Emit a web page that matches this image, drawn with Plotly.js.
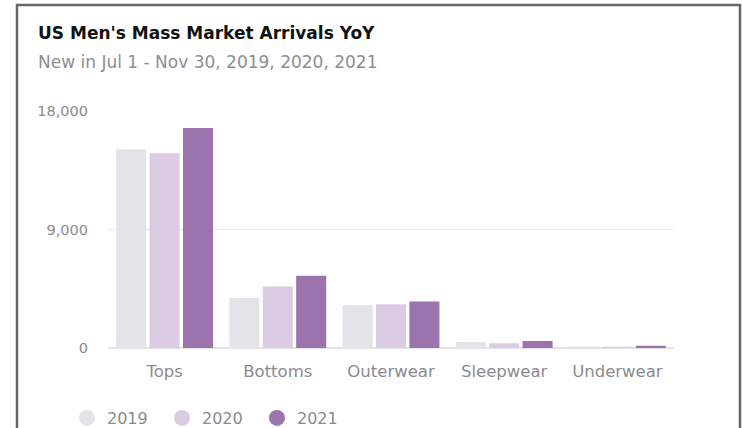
<!DOCTYPE html>
<html>
<head>
<meta charset="utf-8">
<script src="https://cdn.plot.ly/plotly-3.0.1.min.js"></script>
<style>
html,body{margin:0;padding:0;background:#fff;}
#chart{width:742px;height:428px;}
</style>
</head>
<body>
<div id="chart"></div>
<script>
const categories = ["Tops", "Bottoms", "Outerwear", "Sleepwear", "Underwear"];
const years = ["2019", "2020", "2021"];
const values2019 = [15100, 3800, 3250, 460, 110];
const values2020 = [14800, 4680, 3330, 360, 100];
const values2021 = [16700, 5490, 3540, 530, 170];
const colors = ["#e3e4e8", "#dccce3", "#9b74ae"];
const yTicks = [0, 9000, 18000];
const yTickLabels = ["0", "9,000", "18,000"];

const series = [values2019, values2020, values2021];
const traces = [];
series.forEach((vals, i) => {
  traces.push({
    type: "bar", x: categories, y: vals, name: years[i],
    marker: {color: colors[i]}, showlegend: false, hoverinfo: "x+y"
  });
});
years.forEach((yr, i) => {
  traces.push({
    type: "scatter", mode: "markers", x: [null], y: [null], name: yr,
    marker: {color: colors[i], size: 17, symbol: "circle"}, showlegend: true
  });
});

const W = 742, H = 428, L = 108, R = 68, T = 111, B = 80;
const pw = W - L - R, ph = H - T - B;
const px = x => (x - L) / pw;
const py = y => (H - B - y) / ph;
const FONT = "'DejaVu Sans', sans-serif";

const layout = {
  width: W, height: H,
  margin: {l: L, r: R, t: T, b: B, pad: 0, autoexpand: false},
  paper_bgcolor: "#fff", plot_bgcolor: "#fff",
  font: {family: FONT, color: "#8a8a8e", size: 14},
  barmode: "group", bargap: 0.115, bargroupgap: 0.1,
  xaxis: {
    type: "category", showgrid: false, zeroline: false, showline: false,
    ticks: "", tickfont: {size: 16.5, color: "#8a8a8e"}, ticklabelstandoff: 11
  },
  yaxis: {
    range: [0, 18000], tickvals: yTicks, ticktext: yTickLabels,
    showgrid: true, gridcolor: "#e9e9ea", gridwidth: 1.5,
    zeroline: true, zerolinecolor: "#e4e4e6", zerolinewidth: 1.5,
    showline: false, ticks: "", tickfont: {size: 14.5, color: "#8a8a8e"},
    ticklabelstandoff: 19, fixedrange: true
  },
  showlegend: true,
  legend: {
    orientation: "h", xref: "container", yref: "container",
    x: 67 / W, y: 1 - 401 / H, xanchor: "left", yanchor: "top",
    font: {size: 16, color: "#8a8a8e"}, itemsizing: "trace",
    entrywidth: 50, entrywidthmode: "pixels", bgcolor: "rgba(0,0,0,0)"
  },
  annotations: [
    {xref: "paper", yref: "paper", x: px(36), y: py(21), xanchor: "left", yanchor: "top",
     text: "US Men's Mass Market Arrivals YoY", showarrow: false,
     font: {size: 17, color: "#111", family: FONT, weight: 700}},
    {xref: "paper", yref: "paper", x: px(36), y: py(50), xanchor: "left", yanchor: "top",
     text: "New in Jul 1 - Nov 30, 2019, 2020, 2021", showarrow: false,
     font: {size: 17, color: "#8e8e92", family: FONT}}
  ],
  shapes: [
    {type: "path", xref: "paper", yref: "paper",
     path: `M ${px(17)} ${py(440)} L ${px(17)} ${py(5)} L ${px(740)} ${py(5)} L ${px(740)} ${py(440)}`,
     line: {color: "#666", width: 2.5}, layer: "above"}
  ]
};

Plotly.newPlot("chart", traces, layout, {displayModeBar: false, staticPlot: true});
</script>
</body>
</html>
